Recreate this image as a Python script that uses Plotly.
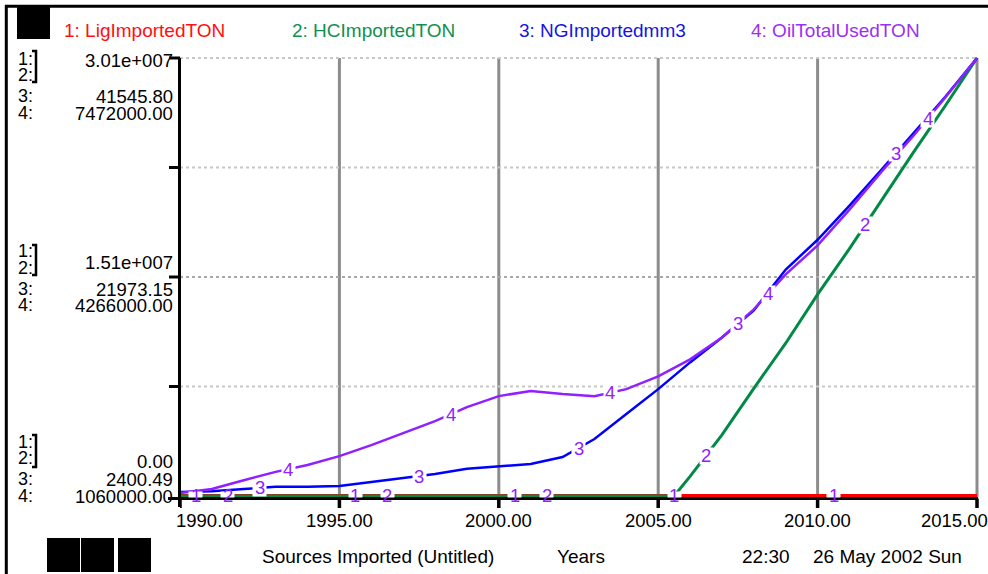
import numpy as np
import plotly.graph_objects as go

# ---------------- data ----------------
years = list(range(1990, 2016))
lig_imported = [0] * 26
hc_years = list(range(1990, 2006)) + [2005.5] + list(range(2006, 2016))
hc_imported = [0] * 16 + [0, 1350000, 4200000, 7400000, 10500000, 13850000,
                          17000000, 20300000, 23600000, 26800000, 30100000]
ng_imported = [2750, 2830, 3030, 3220, 3220, 3300, 3650, 4000, 4360, 4830,
               5060, 5260, 5880, 7490, 9720, 11950, 14340, 16570, 19000,
               22640, 25300, 28350, 31560, 34850, 38060, 41545.8]
oil_used = [1105000, 1163000, 1291000, 1413000, 1515000, 1643000, 1804000,
            1983000, 2156000, 2362000, 2522000, 2598000, 2553000, 2522000,
            2625000, 2810000, 3061000, 3381000, 3792000, 4304000, 4728000,
            5253000, 5805000, 6331000, 6889000, 7472000]

series_names = ["1: LigImportedTON", "2: HCImportedTON", "3: NGImportedmm3", "4: OilTotalUsedTON"]
series_colors = ["#ff0000", "#008a45", "#0000ff", "#9020ff"]
legend_text_colors = ["#ff1010", "#109050", "#1515e0", "#9a30f0"]

scale_12 = [0, 3.01e7]
scale_3 = [2400.49, 41545.80]
scale_4 = [1060000, 7472000]

x_ticks = [1990, 1995, 2000, 2005, 2010, 2015]
x_tick_labels = ["1990.00", "1995.00", "2000.00", "2005.00", "2010.00", "2015.00"]
top_labels = ["3.01e+007", "41545.80", "7472000.00"]
mid_labels = ["1.51e+007", "21973.15", "4266000.00"]
bot_labels = ["0.00", "2400.49", "1060000.00"]

lab1_years = [1990.5, 1995.5, 2000.5, 2005.5, 2010.5]
lab2_years = [1991.5, 1996.5, 2001.5, 2006.5, 2011.5]
lab3_years = [1992.5, 1997.5, 2002.5, 2007.5, 2012.45]
lab4_years = [1993.4, 1998.5, 2003.5, 2008.45, 2013.45]

# ---------------- geometry helpers ----------------
W, H = 988, 574
ML, MR, MT, MB = 180, 8, 55, 74
PW, PH = W - ML - MR, H - MT - MB
Y_TOP_PX, Y_BOT_PX = 58, 496


def PX(px):
    return (px - ML) / PW


def PY(py):
    return (H - MB - py) / PH


def yrange(lo, hi):
    span = hi - lo
    k = span / (Y_BOT_PX - Y_TOP_PX)
    return [lo - (H - MB - Y_BOT_PX) * k, hi + (Y_TOP_PX - MT) * k]


FONT = "Arial, 'Liberation Sans', sans-serif"
PURPLE = "#9020ff"

fig = go.Figure()
fig.add_trace(go.Scatter(x=years, y=lig_imported, mode="lines", yaxis="y",
                         line=dict(color=series_colors[0], width=4)))
fig.add_trace(go.Scatter(x=hc_years, y=hc_imported, mode="lines", yaxis="y",
                         line=dict(color=series_colors[1], width=3)))
fig.add_trace(go.Scatter(x=years, y=ng_imported, mode="lines", yaxis="y2",
                         line=dict(color=series_colors[2], width=2.5)))
fig.add_trace(go.Scatter(x=years, y=oil_used, mode="lines", yaxis="y3",
                         line=dict(color=series_colors[3], width=2.5)))

shapes = []
# vertical grid lines
for xv in x_ticks[1:]:
    shapes.append(dict(type="line", xref="x", yref="paper", x0=xv, x1=xv,
                       y0=PY(497), y1=PY(58), line=dict(color="#8c8c8c", width=3),
                       layer="below"))
# horizontal dotted grid lines
for q in [0.25, 0.5, 0.75, 1.0]:
    yv = scale_12[0] + q * (scale_12[1] - scale_12[0])
    col = "#a8a8a8" if q == 0.5 else "#c8c8c8"
    shapes.append(dict(type="line", xref="x", yref="y", x0=1990, x1=2015,
                       y0=yv, y1=yv, line=dict(color=col, width=2, dash="dot"),
                       layer="below"))
    # left ticks
    shapes.append(dict(type="line", xref="paper", yref="y", x0=PX(169), x1=PX(180),
                       y0=yv, y1=yv, line=dict(color="black", width=3)))
# bottom-left tick
shapes.append(dict(type="line", xref="paper", yref="paper", x0=PX(168), x1=PX(180),
                   y0=PY(498.5), y1=PY(498.5), line=dict(color="black", width=3)))
# axes lines
shapes.append(dict(type="line", xref="paper", yref="paper", x0=PX(179.5), x1=PX(179.5),
                   y0=PY(58), y1=PY(507), line=dict(color="black", width=3)))
shapes.append(dict(type="line", xref="paper", yref="paper", x0=PX(168), x1=PX(978),
                   y0=PY(498.5), y1=PY(498.5), line=dict(color="black", width=3)))
for xv in x_ticks:
    shapes.append(dict(type="line", xref="x", yref="paper", x0=xv, x1=xv,
                       y0=PY(498.5), y1=PY(508), line=dict(color="black", width=3.5)))

# frame
shapes.append(dict(type="line", xref="paper", yref="paper", x0=PX(5), x1=PX(990),
                   y0=PY(6.3), y1=PY(6.3), line=dict(color="black", width=3)))
shapes.append(dict(type="line", xref="paper", yref="paper", x0=PX(6.3), x1=PX(6.3),
                   y0=PY(5), y1=PY(576), line=dict(color="black", width=3)))
# black boxes
for (x0, x1, y0, y1) in [(17, 50, 7, 39), (47, 80, 538, 572), (81, 114, 538, 572), (118, 151, 538, 572)]:
    shapes.append(dict(type="rect", xref="paper", yref="paper", x0=PX(x0), x1=PX(x1),
                       y0=PY(y1), y1=PY(y0), fillcolor="black", line=dict(width=0)))
# brackets
for (ya, yb) in [(51, 82), (245, 275), (435, 467)]:
    path = "M {a},{b} L {c},{b} L {c},{d} L {a},{d}".format(
        a=PX(32), c=PX(36), b=PY(ya), d=PY(yb))
    shapes.append(dict(type="path", xref="paper", yref="paper", path=path,
                       line=dict(color="black", width=2.5)))

ann = []
PAD = 3  # annotation box inner offset


def txt(text, px, py, color="black", size=18, xanchor="left"):
    xx = px - PAD if xanchor == "left" else px + PAD
    ann.append(dict(text=text, x=PX(xx), y=PY(py), xref="paper", yref="paper",
                    showarrow=False, xanchor=xanchor, yanchor="middle",
                    font=dict(family=FONT, size=size, color=color)))


# header legend
for name, col, px in zip(series_names, legend_text_colors, [65, 293, 520, 752]):
    txt(name, px, 30, col, size=19)

# left scale labels
for (rows, vals, valrows) in [
    ([59, 75, 96, 113], top_labels, [60, 96, 113]),
    ([251, 268, 289, 305], mid_labels, [262, 289, 305]),
    ([442, 458, 479, 496], bot_labels, [461, 479, 496]),
]:
    for lab, py in zip(["1:", "2:", "3:", "4:"], rows):
        txt(lab, 19, py)
    for v, py in zip(vals, valrows):
        txt(v, 172, py, xanchor="right", size=18.5)

# x tick labels
for xv, lab in zip(x_ticks, x_tick_labels):
    anchor, shift = "center", 0
    if xv == x_ticks[0]:
        anchor, shift = "left", -6
    elif xv == x_ticks[-1]:
        anchor, shift = "right", 13
    ann.append(dict(text=lab, x=xv, y=PY(520), xref="x", yref="paper", showarrow=False,
                    xanchor=anchor, xshift=shift, yanchor="middle",
                    font=dict(family=FONT, size=18.5, color="black")))

# footer
txt("Sources Imported (Untitled)", 263, 556, size=19)
txt("Years", 558, 556, size=19)
txt("22:30", 743, 556, size=19)
txt("26 May 2002 Sun", 814, 556, size=19)

# inline series labels (white gap behind each number)
for num, (xs, vals, yref, labyears) in enumerate([
    (years, lig_imported, "y", lab1_years),
    (hc_years, hc_imported, "y", lab2_years),
    (years, ng_imported, "y2", lab3_years),
    (years, oil_used, "y3", lab4_years),
], start=1):
    for ly in labyears:
        yv = float(np.interp(ly, xs, vals))
        at_bottom = (num <= 2 and yv == 0)
        ann.append(dict(text=" ", x=ly, y=yv, xref="x", yref=yref, showarrow=False,
                        xanchor="center", yanchor="middle", bgcolor="white",
                        borderpad=0, width=13, height=5 if at_bottom else 16,
                        yshift=2 if at_bottom else 0,
                        font=dict(family=FONT, size=4, color="white")))
        ann.append(dict(text=str(num), x=ly, y=yv, xref="x", yref=yref, showarrow=False,
                        xanchor="center", yanchor="middle",
                        yshift=1 if at_bottom else 0,
                        font=dict(family=FONT, size=18.5, color=PURPLE)))

fig.update_layout(
    width=W, height=H,
    margin=dict(l=ML, r=MR, t=MT, b=MB, pad=0),
    paper_bgcolor="white", plot_bgcolor="white",
    showlegend=False,
    xaxis=dict(range=[1990, 1990 + 25 * PW / 797], visible=False, fixedrange=True),
    yaxis=dict(range=yrange(*scale_12), visible=False),
    yaxis2=dict(range=yrange(*scale_3), visible=False, overlaying="y"),
    yaxis3=dict(range=yrange(*scale_4), visible=False, overlaying="y"),
    shapes=shapes,
    annotations=ann,
)

fig.write_html("out.html", config={"displayModeBar": False})

# remove the browser's default page margin so the figure sits at (0, 0)
with open("out.html", "r", encoding="utf-8") as f:
    html = f.read()
html = html.replace("<body>", '<body style="margin:0;padding:0;overflow:hidden">', 1)
with open("out.html", "w", encoding="utf-8") as f:
    f.write(html)
